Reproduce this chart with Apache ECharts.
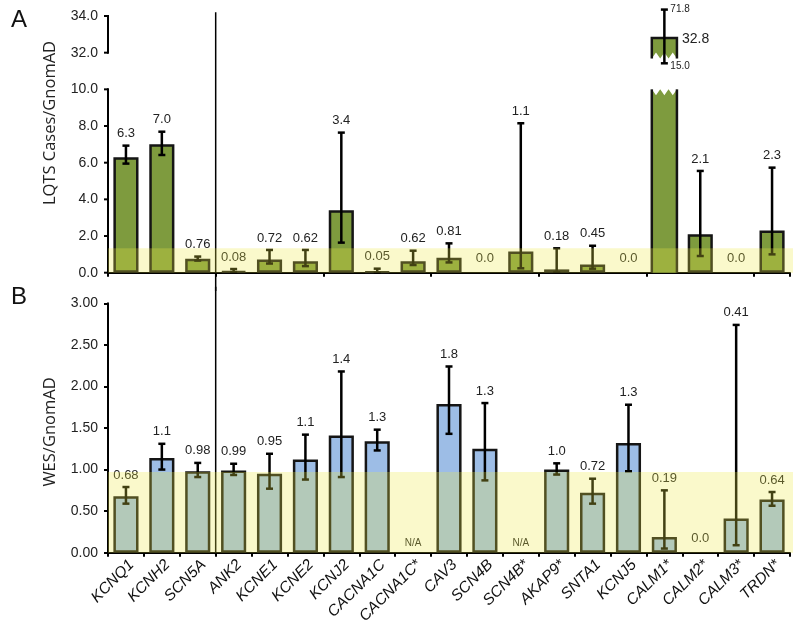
<!DOCTYPE html>
<html><head><meta charset="utf-8">
<script src="https://cdn.jsdelivr.net/npm/echarts@6/dist/echarts.min.js"></script>
<style>html,body{margin:0;padding:0;background:#fff}#c{width:800px;height:630px}</style>
</head><body><div id="c"></div>
<script>
// ---------- data ----------
const genes = ['KCNQ1','KCNH2','SCN5A','ANK2','KCNE1','KCNE2','KCNJ2','CACNA1C','CACNA1C*','CAV3','SCN4B','SCN4B*','AKAP9*','SNTA1','KCNJ5','CALM1*','CALM2*','CALM3*','TRDN*'];

// Panel A: LQTS cases / gnomAD
const lqtsValues = [6.3, 7.0, 0.76, 0.08, 0.72, 0.62, 3.4, 0.05, 0.62, 0.81, 0, 1.15, 0.18, 0.45, 0, 32.8, 2.1, 0, 2.3];
const lqtsLow    = [5.95, 6.42, 0.66, 0.02, 0.5, 0.36, 1.64, 0.0, 0.42, 0.56, null, 0.24, 0.02, 0.22, null, 15.0, 0.91, null, 1.0];
const lqtsHigh   = [6.93, 7.69, 0.88, 0.2, 1.24, 1.24, 7.64, 0.22, 1.2, 1.6, null, 8.15, 1.33, 1.47, null, 71.8, 5.55, null, 5.73];
const lqtsLabels = ['6.3','7.0','0.76','0.08','0.72','0.62','3.4','0.05','0.62','0.81','0.0','1.1','0.18','0.45','0.0','32.8','2.1','0.0','2.3'];
const lqtsTickValues = [0, 2, 4, 6, 8, 10, 32, 34];
const lqtsBand = 1.33;

// Panel B: WES / gnomAD
const wesValues = [0.68, 1.14, 0.98, 0.99, 0.95, 1.12, 1.41, 1.34, null, 1.79, 1.25, null, 1.0, 0.72, 1.32, 0.19, 0, 0.41, 0.64];
const wesLow    = [0.59, 1.0, 0.91, 0.935, 0.77, 0.88, 0.91, 1.23, null, 1.43, 0.87, null, 0.94, 0.59, 0.98, 0.05, null, 0.09, 0.565];
const wesHigh   = [0.79, 1.31, 1.08, 1.07, 1.19, 1.42, 2.18, 1.48, null, 2.24, 1.8, null, 1.075, 0.89, 1.78, 0.75, null, 2.74, 0.73];
const wesLabels = ['0.68','1.1','0.98','0.99','0.95','1.1','1.4','1.3','N/A','1.8','1.3','N/A','1.0','0.72','1.3','0.19','0.0','0.41','0.64'];
const wesTicks = [0, 0.5, 1.0, 1.5, 2.0, 2.5, 3.0];
const wesBand = 0.97;

// ---------- broken axis helpers (panel A) ----------
const BREAK_FROM = 10, BREAK_TO = 32, BREAK_GAP = 2;
const SHIFT = BREAK_TO - BREAK_FROM - BREAK_GAP; // 20
const DISPLAY_MAX = lqtsTickValues[lqtsTickValues.length - 1] - SHIFT; // 14
function toDisplay(v) { return v <= BREAK_FROM ? v : v - SHIFT; }
function fromDisplay(d) { return d <= BREAK_FROM ? d : d + SHIFT; }
const OFF_TOP = DISPLAY_MAX + 0.35, OFF_GAP = BREAK_FROM + BREAK_GAP - 0.58;
function whiskerDisplay(v) {
  if (v > lqtsTickValues[lqtsTickValues.length - 1]) return OFF_TOP;
  if (v > BREAK_FROM && v < BREAK_TO) return OFF_GAP;
  return toDisplay(v);
}

const FONT = '"Liberation Sans", Arial, sans-serif';
const GREEN = '#7e9b3e', BLUE = '#9dbde6', EDGE = '#151515';
const BAND = 'rgba(236,232,70,0.28)';
const BAR_FRAC = 0.7;

function idxData() { return genes.map((g, i) => [i]); }

function errorLabelRender(values, lows, highs, labels, isBroken) {
  return function (params, api) {
    const i = api.value(0);
    if (isBroken(i)) return null;
    const cx = api.coord([i, 0])[0];
    const y0 = api.coord([i, 0])[1];
    const ch = [];
    const lo = lows[i], hi = highs[i];
    if (lo != null && hi != null) {
      const yl = api.coord([i, lo])[1], yh = api.coord([i, hi])[1];
      const st = { stroke: '#000', lineWidth: 2.5 };
      ch.push({ type: 'line', shape: { x1: cx, y1: yl, x2: cx, y2: yh }, style: st });
      ch.push({ type: 'line', shape: { x1: cx - 3.5, y1: yl, x2: cx + 3.5, y2: yl }, style: st });
      ch.push({ type: 'line', shape: { x1: cx - 3.5, y1: yh, x2: cx + 3.5, y2: yh }, style: st });
    }
    const lab = labels[i];
    if (lab === 'N/A') {
      ch.push({ type: 'text', x: cx, y: y0 - 9, style: { text: lab, fill: '#222', font: '10px ' + FONT, align: 'center', verticalAlign: 'middle' } });
    } else {
      const top = hi != null ? hi : (values[i] || 0);
      const yt = api.coord([i, top])[1] - (hi != null ? 12 : 14);
      ch.push({ type: 'text', x: cx, y: yt, style: { text: lab, fill: '#222', font: '13px ' + FONT, align: 'center', verticalAlign: 'middle' } });
    }
    return { type: 'group', children: ch };
  };
}

function bandRender(band) {
  return function (params, api) {
    const cs = params.coordSys;
    const yb = api.coord([0, 0])[1], yt = api.coord([0, band])[1];
    return { type: 'rect', shape: { x: cs.x, y: yt, width: cs.width + 3, height: yb - yt }, style: { fill: BAND } };
  };
}

function separatorRender(fromVal, toVal) {
  return function (params, api) {
    const x = api.coord([2, 0])[0] + api.size([1, 0])[0] / 2;
    return { type: 'line', shape: { x1: x, y1: api.coord([2, fromVal])[1], x2: x, y2: api.coord([2, toVal])[1] }, style: { stroke: '#000', lineWidth: 1.5 } };
  };
}

function brokenAxisRender(params, api) {
  const x = params.coordSys.x;
  const st = { stroke: '#000', lineWidth: 2 };
  const ch = [];
  const lowTop = api.coord([0, BREAK_FROM])[1], lowBot = api.coord([0, 0])[1];
  const upBot = api.coord([0, toDisplay(BREAK_TO)])[1], upTop = api.coord([0, DISPLAY_MAX])[1];
  ch.push({ type: 'line', shape: { x1: x, y1: lowBot + 1, x2: x, y2: lowTop - 1 }, style: st });
  ch.push({ type: 'line', shape: { x1: x, y1: upBot + 1, x2: x, y2: upTop - 1 }, style: st });
  lqtsTickValues.forEach(v => {
    const y = api.coord([0, toDisplay(v)])[1];
    ch.push({ type: 'line', shape: { x1: x - 4, y1: y, x2: x, y2: y }, style: st });
  });
  return { type: 'group', children: ch };
}

function brokenBarRender(params, api) {
  const i = api.value(0);
  const v = lqtsValues[i];
  if (!(v > BREAK_FROM)) return null;
  const cx = api.coord([i, 0])[0];
  const w = api.size([1, 0])[0] * BAR_FRAC;
  const xl = cx - w / 2, xr = cx + w / 2;
  const y0 = api.coord([i, 0])[1];
  const yBreak = api.coord([i, BREAK_FROM])[1];
  const yTop = api.coord([i, toDisplay(v)])[1];
  const yUpBot = api.coord([i, BREAK_FROM + BREAK_GAP - 0.32])[1];
  const d = 6, n = 3;
  const lowPts = [[xl, y0], [xl, yBreak]];
  for (let k = 0; k < n; k++) {
    lowPts.push([xl + (k + 0.5) * w / n, yBreak + d]);
    lowPts.push([xl + (k + 1) * w / n, yBreak]);
  }
  lowPts.push([xr, y0]);
  const upPts = [[xl, yTop], [xr, yTop], [xr, yUpBot]];
  for (let k = n - 1; k >= 0; k--) {
    upPts.push([xl + (k + 0.5) * w / n, yUpBot - d]);
    upPts.push([xl + k * w / n, yUpBot]);
  }
  const st = { stroke: EDGE, lineWidth: 2.5 };
  const ch = [
    { type: 'polygon', shape: { points: lowPts }, style: { fill: GREEN } },
    { type: 'line', shape: { x1: xl, y1: y0, x2: xl, y2: yBreak }, style: st },
    { type: 'line', shape: { x1: xr, y1: y0, x2: xr, y2: yBreak }, style: st },
    { type: 'polygon', shape: { points: upPts }, style: { fill: GREEN } },
    { type: 'polyline', shape: { points: [[xl, yUpBot], [xl, yTop], [xr, yTop], [xr, yUpBot]] }, style: Object.assign({ fill: null }, st) }
  ];
  const yl = api.coord([i, whiskerDisplay(lqtsLow[i])])[1];
  const yh = api.coord([i, whiskerDisplay(lqtsHigh[i])])[1];
  const ws = { stroke: '#000', lineWidth: 2.5 };
  ch.push({ type: 'line', shape: { x1: cx, y1: yl, x2: cx, y2: yh }, style: ws });
  ch.push({ type: 'line', shape: { x1: cx - 3.5, y1: yl, x2: cx + 3.5, y2: yl }, style: ws });
  ch.push({ type: 'line', shape: { x1: cx - 3.5, y1: yh, x2: cx + 3.5, y2: yh }, style: ws });
  ch.push({ type: 'text', x: cx + 6, y: yh, style: { text: lqtsHigh[i].toFixed(1), fill: '#222', font: '10px ' + FONT, align: 'left', verticalAlign: 'middle' } });
  ch.push({ type: 'text', x: cx + 6, y: yl + 3, style: { text: lqtsLow[i].toFixed(1), fill: '#222', font: '10px ' + FONT, align: 'left', verticalAlign: 'middle' } });
  ch.push({ type: 'text', x: xr + 5, y: yTop + 1, style: { text: lqtsLabels[i], fill: '#222', font: '14px ' + FONT, align: 'left', verticalAlign: 'middle' } });
  return { type: 'group', children: ch };
}

const axisCommon = {
  axisLine: { show: true, lineStyle: { color: '#000', width: 2 } },
  axisTick: { show: true, length: 4, lineStyle: { color: '#000', width: 2 } },
  splitLine: { show: false }
};

const option = {
  animation: false,
  backgroundColor: '#fff',
  textStyle: { fontFamily: FONT },
  grid: [
    { left: 108, right: 10, top: 16, bottom: 357.3 },
    { left: 108, right: 10, top: 303.3, bottom: 77.3 }
  ],
  xAxis: [
    Object.assign({ gridIndex: 0, type: 'category', data: genes, axisLabel: { show: false } }, axisCommon),
    Object.assign({ gridIndex: 1, type: 'category', data: genes,
      axisLabel: { interval: 0, rotate: 45, fontStyle: 'italic', fontSize: 15.5, color: '#111', fontFamily: FONT, margin: 4, verticalAlign: 'top' } }, axisCommon)
  ],
  yAxis: [
    { gridIndex: 0, type: 'value', min: 0, max: DISPLAY_MAX, interval: 2,
      axisLine: { show: false }, axisTick: { show: false }, splitLine: { show: false },
      axisLabel: { formatter: v => fromDisplay(v).toFixed(1), fontSize: 14, color: '#222', fontFamily: FONT, margin: 10 } },
    Object.assign({ gridIndex: 1, type: 'value', min: wesTicks[0], max: wesTicks[wesTicks.length - 1], interval: wesTicks[1] - wesTicks[0],
      axisLabel: { formatter: v => v.toFixed(2), fontSize: 14, color: '#222', fontFamily: FONT, margin: 10 } }, axisCommon)
  ],
  graphic: [
    { type: 'text', left: 11, top: 8, style: { text: 'A', font: '24px ' + FONT, fill: '#111' } },
    { type: 'text', left: 11, top: 285, style: { text: 'B', font: '24px ' + FONT, fill: '#111' } },
    { type: 'text', x: 50, y: 123, rotation: Math.PI / 2, style: { text: 'LQTS Cases/GnomAD', font: '16.5px "Open Sans", ' + FONT, fill: '#222', align: 'center', verticalAlign: 'middle' } },
    { type: 'text', x: 50, y: 432, rotation: Math.PI / 2, style: { text: 'WES/GnomAD', font: '16.5px "Open Sans", ' + FONT, fill: '#222', align: 'center', verticalAlign: 'middle' } }
  ],
  series: [
    { type: 'bar', xAxisIndex: 0, yAxisIndex: 0, barWidth: (BAR_FRAC * 100) + '%', z: 2,
      data: lqtsValues.map(v => (v > 0 && v <= BREAK_FROM) ? v : null),
      itemStyle: { color: GREEN, borderColor: EDGE, borderWidth: 2.5 } },
    { type: 'custom', xAxisIndex: 0, yAxisIndex: 0, z: 3, clip: false, data: idxData(), renderItem: brokenBarRender },
    { type: 'custom', xAxisIndex: 0, yAxisIndex: 0, z: 4, clip: false, data: idxData(),
      renderItem: errorLabelRender(lqtsValues, lqtsLow, lqtsHigh, lqtsLabels, i => lqtsValues[i] > BREAK_FROM) },
    { type: 'custom', xAxisIndex: 0, yAxisIndex: 0, z: 5, clip: false, data: [[0]], renderItem: brokenAxisRender },
    { type: 'custom', xAxisIndex: 0, yAxisIndex: 0, z: 5, clip: false, data: [[0]], renderItem: separatorRender(DISPLAY_MAX + 0.2, -1.0) },
    { type: 'custom', xAxisIndex: 0, yAxisIndex: 0, z: 10, silent: true, clip: false, data: [[0]], renderItem: bandRender(lqtsBand) },

    { type: 'bar', xAxisIndex: 1, yAxisIndex: 1, barWidth: (BAR_FRAC * 100) + '%', z: 2,
      data: wesValues.map(v => (v > 0) ? v : null),
      itemStyle: { color: BLUE, borderColor: EDGE, borderWidth: 2.5 } },
    { type: 'custom', xAxisIndex: 1, yAxisIndex: 1, z: 4, clip: false, data: idxData(),
      renderItem: errorLabelRender(wesValues, wesLow, wesHigh, wesLabels, () => false) },
    { type: 'custom', xAxisIndex: 1, yAxisIndex: 1, z: 5, clip: false, data: [[0]], renderItem: separatorRender(3.2, -0.03) },
    { type: 'custom', xAxisIndex: 1, yAxisIndex: 1, z: 10, silent: true, clip: false, data: [[0]], renderItem: bandRender(wesBand) }
  ]
};
const chart = echarts.init(document.getElementById('c'));
chart.setOption(option);
</script>
</body></html>
